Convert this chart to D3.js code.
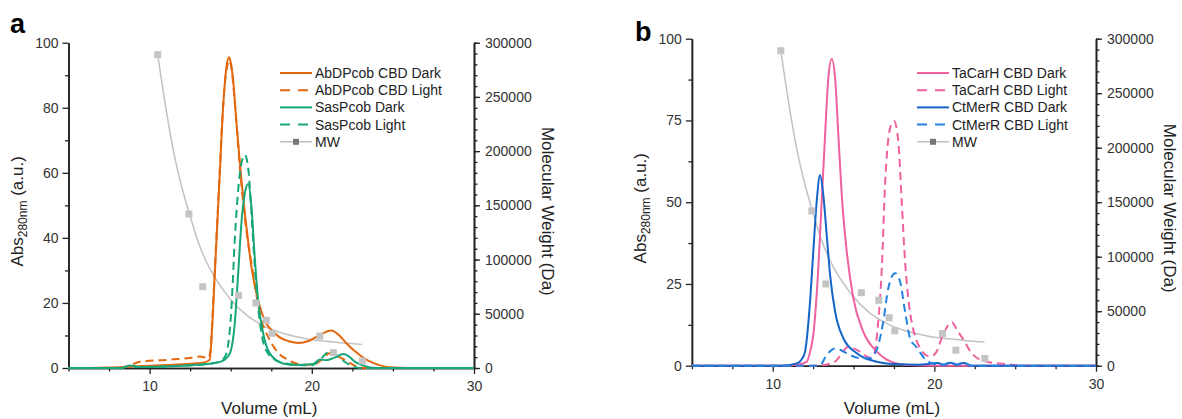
<!DOCTYPE html>
<html>
<head>
<meta charset="utf-8">
<script src="https://cdn.jsdelivr.net/npm/d3@7"></script>
<style>
  body { margin: 0; background: #fff; }
  svg text { font-family: "Liberation Sans", Arial, sans-serif; fill: #222; }
</style>
</head>
<body>
<svg id="chart" width="1182" height="419"></svg>
<script>
// ---- data: [volume mL, Abs280] ----
const abdpDark = [[5,0],[7,0.1],[8.5,0.3],[9.5,0.6],[11,0.9],[12.5,1.3],[13.4,1.8],[13.7,2.5],[13.85,12],[14.02,29],[14.18,45],[14.33,60],[14.53,80],[14.74,92.6],[14.9,95.5],[15.0,94],[15.15,88.5],[15.36,75],[15.66,57.8],[15.97,43.4],[16.28,31],[16.69,20.9],[17.2,13.7],[17.6,11.3],[18.02,9.4],[18.6,8.2],[19.2,7.7],[19.8,8.3],[20.5,10.2],[21.2,11.5],[21.7,10],[22.13,7.6],[22.95,4],[23.5,2.2],[23.98,1.2],[24.8,0.2],[26,0],[30,0]];
const abdpLight = [[5,0],[8.0,0],[8.6,0.5],[9.4,1.9],[11.05,2.5],[12.5,3.1],[13.1,3.5],[13.6,3.1],[13.75,5],[13.9,18],[14.05,33],[14.3,58],[14.5,78],[14.72,91],[14.92,94.5],[15.05,92],[15.25,82],[15.56,62],[15.9,45],[16.38,29],[16.79,16.8],[17.41,8.6],[18.02,4.2],[18.43,2.8],[19.25,1.2],[20.07,1.0],[20.6,2.5],[21.1,4.5],[21.6,3.6],[22.13,2.2],[22.75,0.5],[23.5,0],[30,0]];
const sasDark = [[5,0],[8.3,0],[8.8,0.8],[9.3,0.3],[10.5,0.4],[12,0.7],[13.5,1.2],[14.3,1.8],[14.6,2.5],[14.95,4.5],[15.25,13.7],[15.46,29],[15.66,44.5],[15.87,53.7],[16.07,56.6],[16.28,49.6],[16.48,34.2],[16.69,20.9],[17.0,10.7],[17.41,4.5],[18.23,1.4],[19.05,0.9],[20.07,1.2],[20.5,2.6],[20.9,2.4],[21.4,3.2],[21.95,4.3],[22.3,3.5],[22.7,1.8],[23.15,0.8],[24,0],[30,0]];
const sasLight = [[5,0],[8.3,0],[8.8,0.8],[9.3,0.3],[10.5,0.4],[12,0.7],[13.5,1.2],[14.2,1.8],[14.5,2.5],[14.74,4.5],[15.05,18.8],[15.25,39.3],[15.46,54.7],[15.66,62.9],[15.87,65.5],[16.07,61.9],[16.25,50],[16.38,39.3],[16.59,24],[16.9,10.7],[17.3,4.5],[18.0,1.9],[19,1.0],[20,0.8],[20.5,2.5],[21.1,5.1],[21.5,4.0],[22.0,2.0],[22.5,0.6],[23,0],[30,0]];

const taDark = [[5,0],[10.5,0],[11.5,0.3],[12.1,1.2],[12.3,4],[12.51,9.4],[12.82,29.8],[13.03,50.2],[13.24,70.6],[13.44,87.9],[13.65,93.8],[13.86,87.9],[14.06,70.6],[14.27,52.2],[14.58,34.9],[14.99,20.6],[15.6,10.4],[16.44,4.3],[17.0,2],[17.67,0.7],[18.5,0.2],[20,0],[30,0]];
const taLight = [[5,0],[12.5,0],[13.5,0.5],[13.96,1.7],[14.3,4],[14.68,5.8],[15.0,5.3],[15.4,4.3],[16.02,2.4],[16.3,4],[16.5,12],[16.75,29.8],[16.95,55.3],[17.26,72.6],[17.51,74.8],[17.77,68.5],[17.98,50.2],[18.2,31],[18.45,18],[18.7,11],[19.0,6.5],[19.4,3.5],[19.75,2.8],[20.1,4],[20.5,9],[21.08,13.3],[21.4,11],[21.8,7.9],[22.4,3.3],[23.25,1.2],[24.48,0.5],[25.5,0],[30,0]];
const ctDark = [[5,0],[10.5,0],[11.49,0.7],[11.8,2],[12.0,4.3],[12.31,19.6],[12.51,34.9],[12.72,50.2],[12.93,58.3],[13.13,52.2],[13.34,40],[13.55,27.7],[13.86,16.5],[14.37,8.4],[15.2,3.8],[16.44,1.2],[17.5,0.5],[19,0.3],[20.2,0.8],[20.6,0.3],[21.0,0.9],[21.4,0.3],[21.8,0.8],[22.3,0],[30,0]];
const ctLight = [[5,0],[12.5,0],[12.93,0.2],[13.34,3.3],[13.86,5.3],[14.2,4.8],[14.58,3.8],[15.4,2.3],[16.02,2.3],[16.3,3.5],[16.53,6.3],[16.84,13.5],[17.15,23.7],[17.57,28.3],[17.88,25.7],[18.19,16.5],[18.5,8.4],[18.87,5.8],[19.5,1.7],[19.9,0.7],[20.5,0.3],[21.0,1.0],[21.4,0.4],[21.8,1.0],[22.3,0],[30,0]];

// MW standards (volume mL, Da) and the calibration fit line
const mwVol = [10.5, 12.42, 13.28, 15.48, 16.56, 17.2, 17.55, 20.5, 21.33, 23.12];
const mwDa = [289000, 142000, 75000, 67000, 60000, 44000, 32000, 29500, 14200, 6600];
const mwFitVol = [10.5, 11, 11.5, 12, 12.5, 13, 13.5, 14, 14.5, 15, 16, 17, 18, 19, 20, 21, 22, 23.1];
const mwFitDa = [289000, 240000, 198000, 166000, 140000, 116000, 98000, 84000, 73000, 63000, 48500, 39000, 33000, 29000, 26000, 24500, 23000, 21700];

const xTicks = [10, 20, 30];
const xMinor = [5, 7.5, 12.5, 15, 17.5, 22.5, 25, 27.5];
const mwTicks = [0, 50000, 100000, 150000, 200000, 250000, 300000];

const svg = d3.select("#chart");

function drawPanel(p) {
  const g = svg.append("g");
  const x = d3.scaleLinear().domain([5, 30]).range([p.left, p.right]);
  const y = d3.scaleLinear().domain([0, 100]).range([p.bottom, p.top]);
  const yR = d3.scaleLinear().domain([0, 300000]).range([p.bottom, p.top]);

  // minor ticks first, then major axes on top
  g.append("g").attr("transform", `translate(0,${p.bottom})`)
    .call(d3.axisBottom(x).tickValues(xMinor).tickSize(3.5).tickSizeOuter(0).tickFormat(""));
  g.append("g").attr("transform", `translate(${p.left},0)`)
    .call(d3.axisLeft(y).tickValues(p.yMinor).tickSize(3.5).tickSizeOuter(0).tickFormat(""));
  g.append("g").attr("transform", `translate(${p.right},0)`)
    .call(d3.axisRight(yR).tickValues(d3.range(0, 300001, 10000)).tickSize(3.5).tickSizeOuter(0).tickFormat(""));

  g.append("g").attr("transform", `translate(0,${p.bottom})`)
    .call(d3.axisBottom(x).tickValues(xTicks).tickSize(6).tickSizeOuter(0).tickPadding(7));
  g.append("g").attr("transform", `translate(${p.left},0)`)
    .call(d3.axisLeft(y).tickValues(p.yTicks).tickSize(6).tickSizeOuter(0).tickPadding(4));
  g.append("g").attr("transform", `translate(${p.right},0)`)
    .call(d3.axisRight(yR).tickValues(mwTicks).tickSize(6).tickSizeOuter(0).tickPadding(5).tickFormat(d3.format("d")));

  g.selectAll(".domain").attr("stroke", "#222").attr("stroke-width", 1.6);
  g.selectAll(".tick line").attr("stroke", "#222").attr("stroke-width", 1.3);
  g.selectAll(".tick text").attr("font-size", 14).style("fill", "#333")
    .attr("font-family", "'Liberation Sans', Arial, sans-serif");

  const line = d3.line().x(d => x(d[0])).y(d => y(d[1])).curve(d3.curveMonotoneX);
  const mwLine = d3.line().x(d => x(d[0])).y(d => yR(d[1])).curve(d3.curveMonotoneX);

  g.append("path").datum(mwFitVol.map((v, i) => [v, mwFitDa[i]]))
    .attr("d", mwLine).attr("fill", "none").attr("stroke", "#c2c2c2").attr("stroke-width", 1.5);

  p.series.forEach(s => {
    g.append("path").datum(s.data).attr("d", line)
      .attr("fill", "none").attr("stroke", s.color).attr("stroke-width", 2)
      .attr("stroke-dasharray", s.dash ? "8,5" : null);
  });

  g.selectAll(".mw").data(mwVol.map((v, i) => [v, mwDa[i]])).enter().append("rect")
    .attr("x", d => x(d[0]) - 3.5).attr("y", d => yR(d[1]) - 3.5)
    .attr("width", 7).attr("height", 7).attr("fill", "#c4c4c4");

  // legend
  const lg = g.append("g").attr("transform", `translate(${p.legX},${p.legY})`);
  const entries = p.series.map(s => ({ label: s.label, color: s.color, dash: s.dash }))
    .concat([{ label: "MW", color: "#b0b0b0", mw: true }]);
  entries.forEach((e, i) => {
    const ey = i * 17.2;
    if (e.mw) {
      lg.append("line").attr("x1", 0).attr("x2", 32).attr("y1", ey).attr("y2", ey)
        .attr("stroke", "#b0b0b0").attr("stroke-width", 1.2);
      lg.append("rect").attr("x", 13).attr("y", ey - 3).attr("width", 6).attr("height", 6).attr("fill", "#777");
    } else {
      lg.append("line").attr("x1", 0).attr("x2", 32).attr("y1", ey).attr("y2", ey)
        .attr("stroke", e.color).attr("stroke-width", 2)
        .attr("stroke-dasharray", e.dash ? "10,8" : null);
    }
    lg.append("text").attr("x", 35).attr("y", ey + 5).attr("font-size", 14).text(e.label);
  });

  // axis titles
  const midY = (p.top + p.bottom) / 2 + 6;
  const lt = g.append("text").attr("transform", `translate(${p.left - 46},${midY}) rotate(-90)`)
    .attr("text-anchor", "middle").attr("font-size", 17);
  lt.append("tspan").text("Abs");
  lt.append("tspan").attr("font-size", 12).attr("dy", 4).text("280nm");
  lt.append("tspan").attr("dy", -4).text(" (a.u.)");

  g.append("text").attr("transform", `translate(${p.right + 68},${midY}) rotate(90)`)
    .attr("text-anchor", "middle").attr("font-size", 17).text("Molecular Weight (Da)");

  g.append("text").attr("x", (p.left + p.right) / 2 - 2).attr("y", 414)
    .attr("text-anchor", "middle").attr("font-size", 17).text("Volume (mL)");

  g.append("text").attr("x", p.letterX).attr("y", p.letterY)
    .attr("font-size", 27).attr("font-weight", "bold").style("fill", "#000").text(p.letter);
}

drawPanel({
  letter: "a", letterX: 10, letterY: 33,
  left: 68.5, right: 474, top: 42.7, bottom: 368,
  yTicks: [0, 20, 40, 60, 80, 100], yMinor: [10, 30, 50, 70, 90],
  legX: 280, legY: 73,
  series: [
    { label: "AbDPcob CBD Dark", data: abdpDark, color: "#e2670f", dash: false },
    { label: "AbDPcob CBD Light", data: abdpLight, color: "#e2670f", dash: true },
    { label: "SasPcob Dark", data: sasDark, color: "#17a67a", dash: false },
    { label: "SasPcob Light", data: sasLight, color: "#17a67a", dash: true }
  ]
});

drawPanel({
  letter: "b", letterX: 635, letterY: 41,
  left: 691.9, right: 1096, top: 38.7, bottom: 365.7,
  yTicks: [0, 25, 50, 75, 100], yMinor: [12.5, 37.5, 62.5, 87.5],
  legX: 917, legY: 73,
  series: [
    { label: "TaCarH CBD Dark", data: taDark, color: "#f0609f", dash: false },
    { label: "TaCarH CBD Light", data: taLight, color: "#f0609f", dash: true },
    { label: "CtMerR CBD Dark", data: ctDark, color: "#1565c8", dash: false },
    { label: "CtMerR CBD Light", data: ctLight, color: "#2582e0", dash: true }
  ]
});
</script>
</body>
</html>
